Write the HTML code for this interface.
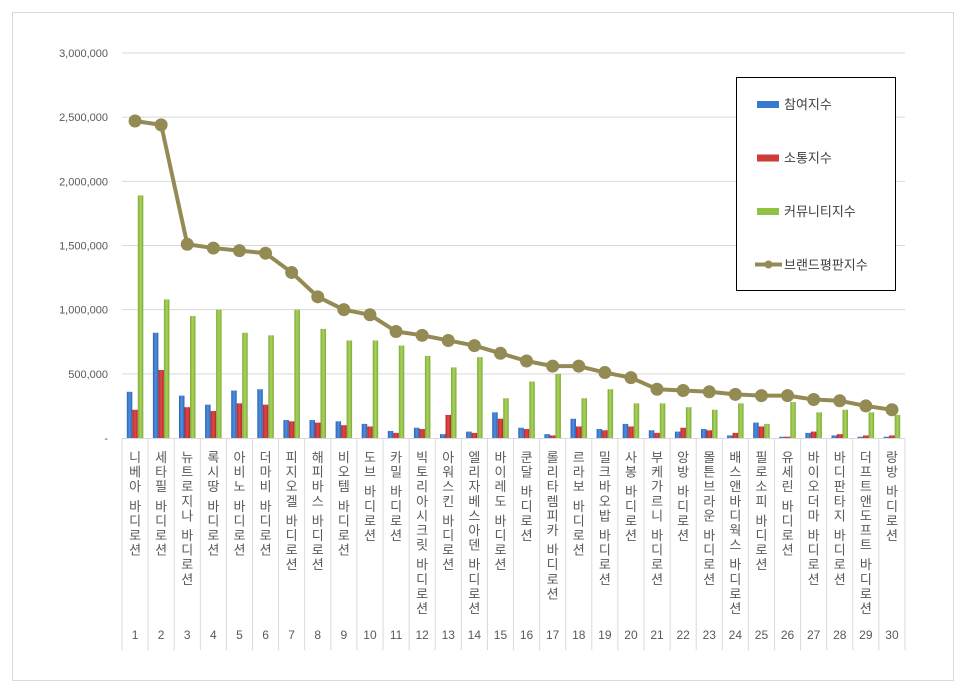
<!DOCTYPE html>
<html><head><meta charset="utf-8">
<style>
body{margin:0;background:#fff;font-family:"Liberation Sans","Noto Sans CJK KR",sans-serif;}
#wrap{position:relative;width:966px;height:693px;overflow:hidden;}
svg text{font-family:"Liberation Sans","Noto Sans CJK KR",sans-serif;}
</style></head>
<body>
<div id="wrap">
<svg id="chart" width="966" height="693" xmlns="http://www.w3.org/2000/svg">
<rect x="12.5" y="12.5" width="941" height="668" fill="#fff" stroke="#d9d9d9"/>
</svg>
</div>
<script>
const categories=["니베아 바디로션","세타필 바디로션","뉴트로지나 바디로션","록시땅 바디로션","아비노 바디로션","더마비 바디로션","피지오겔 바디로션","해피바스 바디로션","비오템 바디로션","도브 바디로션","카밀 바디로션","빅토리아시크릿 바디로션","아워스킨 바디로션","엘리자베스아덴 바디로션","바이레도 바디로션","쿤달 바디로션","롤리타렘피카 바디로션","르라보 바디로션","밀크바오밥 바디로션","사봉 바디로션","부케가르니 바디로션","앙방 바디로션","몰튼브라운 바디로션","배스앤바디웍스 바디로션","필로소피 바디로션","유세린 바디로션","바이오더마 바디로션","바디판타지 바디로션","더프트앤도프트 바디로션","랑방 바디로션"];
const participation=[360000,820000,330000,260000,370000,380000,140000,140000,130000,110000,55000,80000,30000,50000,200000,80000,30000,150000,70000,110000,60000,50000,70000,20000,120000,10000,40000,20000,10000,10000];
const communication=[220000,530000,240000,210000,270000,260000,130000,120000,100000,90000,40000,70000,180000,40000,150000,70000,20000,90000,60000,90000,40000,80000,60000,40000,90000,10000,50000,30000,20000,20000];
const community=[1890000,1080000,950000,1000000,820000,800000,1000000,850000,760000,760000,720000,640000,550000,630000,310000,440000,500000,310000,380000,270000,270000,240000,220000,270000,110000,280000,200000,220000,200000,180000];
const brandIndex=[2470000,2440000,1510000,1480000,1460000,1440000,1290000,1100000,1000000,960000,830000,800000,760000,720000,660000,600000,560000,560000,510000,470000,380000,370000,360000,340000,330000,330000,300000,290000,250000,220000];
const yTicks=[0,500000,1000000,1500000,2000000,2500000,3000000];
const yTickLabels=["-","500,000","1,000,000","1,500,000","2,000,000","2,500,000","3,000,000"];
const seriesNames=["참여지수","소통지수","커뮤니티지수","브랜드평판지수"];

const NS="http://www.w3.org/2000/svg";
const svg=document.getElementById('chart');
const X0=122,X1=905,Y0=438,YT=53,YMAX=3000000;
const bw=(X1-X0)/categories.length;
function y(v){return Y0-(v/YMAX)*(Y0-YT);}
function xc(i){return X0+bw*(i+0.5);}
function mk(tag,attrs){const e=document.createElementNS(NS,tag);for(const k in attrs)e.setAttribute(k,attrs[k]);svg.appendChild(e);return e;}

yTicks.forEach((t,i)=>{
  if(t>0){const g=mk('line',{x1:X0,x2:X1,y1:y(t),y2:y(t),stroke:'#d9d9d9','stroke-width':1});
  
  }
  const tx=mk('text',{x:108,y:y(t)+4,'text-anchor':'end','font-size':11,fill:'#595959'});
  tx.textContent=yTickLabels[i];
  
  
});
const ax=mk('line',{x1:X0,x2:X1,y1:Y0+0.5,y2:Y0+0.5,stroke:'#d9d9d9'});


for(let i=0;i<=categories.length;i++){
  const l=mk('line',{x1:X0+bw*i,x2:X0+bw*i,y1:Y0,y2:650,stroke:'#d9d9d9'});
  
  
}
const defs=mk('defs',{});
defs.innerHTML='<linearGradient id="gb" x1="0" x2="1"><stop offset="0" stop-color="#2c64b4"/><stop offset="0.5" stop-color="#4f8fe0"/><stop offset="1" stop-color="#2c64b4"/></linearGradient><linearGradient id="gr" x1="0" x2="1"><stop offset="0" stop-color="#b52a2a"/><stop offset="0.5" stop-color="#e04848"/><stop offset="1" stop-color="#b52a2a"/></linearGradient><linearGradient id="gg" x1="0" x2="1"><stop offset="0" stop-color="#7fa83a"/><stop offset="0.5" stop-color="#a8d45a"/><stop offset="1" stop-color="#7fa83a"/></linearGradient>';
const barW=5.5;
const series=[[participation,'url(#gb)','bar-participation',-1],[communication,'url(#gr)','bar-communication',0],[community,'url(#gg)','bar-community',1]];
categories.forEach((c,i)=>{
  series.forEach(s=>{
    const v=s[0][i];
    const r=mk('rect',{x:xc(i)+s[3]*barW-barW/2,y:y(v),width:barW,height:Y0-y(v),fill:s[1]});
    
    
  });
});
const pts=brandIndex.map((v,i)=>xc(i)+','+y(v)).join(' ');
const pl=mk('polyline',{points:pts,fill:'none',stroke:'#948a54','stroke-width':4,'stroke-linejoin':'round'});


brandIndex.forEach((v,i)=>{
  const c=mk('circle',{cx:xc(i),cy:y(v),r:6.5,fill:'#948a54'});
  
  
});
categories.forEach((c,i)=>{
  let yy=462;
  for(const ch of c){
    if(ch===' '){yy+=5;continue;}
    const t=mk('text',{x:xc(i),y:yy,'text-anchor':'middle','font-size':13,fill:'#595959'});
    t.textContent=ch;
    
    
    yy+=14.6;
  }
  const n=mk('text',{x:xc(i),y:639,'text-anchor':'middle','font-size':12,fill:'#595959'});
  n.textContent=String(i+1);
  
  
});
const lg=mk('rect',{x:736.5,y:77.5,width:159,height:213,fill:'#fff',stroke:'#000'});


const lgFills=['#3a78cf','#cf3a3a','#92c244'];
seriesNames.forEach((nm,i)=>{
  const ly=104+i*53.5;
  if(i<3){
    const sw=mk('rect',{x:757,y:ly-3,width:22,height:7,fill:lgFills[i]});
    
    
  }else{
    const ln=mk('line',{x1:755,x2:782,y1:ly,y2:ly,stroke:'#948a54','stroke-width':4});
    
    
    const cc=mk('circle',{cx:768.5,cy:ly,r:4,fill:'#948a54'});
    
    
  }
  const t=mk('text',{x:784,y:ly+5,'font-size':13,fill:'#404040'});
  t.textContent=nm;
  
  
});
</script>
</body></html>
